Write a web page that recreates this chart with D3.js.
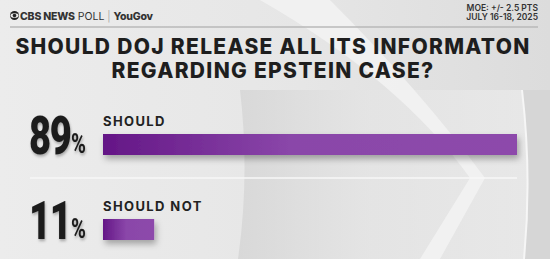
<!DOCTYPE html>
<html>
<head>
<meta charset="utf-8">
<script src="https://cdn.jsdelivr.net/npm/d3@7"></script>
<style>
  body { margin: 0; background: #e9e9e9; }
  svg { display: block; }
  .title { font-family: Inter, 'Open Sans', sans-serif; font-weight: 800; fill: #1e1e1e; letter-spacing: 1.3px; }
  .num { font-family: Roboto, 'DejaVu Sans', sans-serif; font-weight: 900; fill: #1c1c1c; }
  .label { font-family: Inter, 'Open Sans', sans-serif; font-weight: 700; fill: #222; letter-spacing: 1.4px; }
  .small { font-family: Inter, 'Open Sans', sans-serif; fill: #333; }
</style>
</head>
<body>
<div id="chart"></div>
<script>
const answers = ['SHOULD', 'SHOULD NOT'];
const values = [89, 11];
const titleLines = ['SHOULD DOJ RELEASE ALL ITS INFORMATON', 'REGARDING EPSTEIN CASE?'];
const moeLines = ['MOE: +/- 2.5 PTS', 'JULY 16-18, 2025'];

const width = 550;
const height = 259;

const svg = d3.select('#chart')
  .append('svg')
    .attr('viewBox', [0, 0, width, height])
    .attr('width', width)
    .attr('height', height);

const defs = svg.append('defs');

// background shading
const bgGrad = defs.append('linearGradient').attr('id', 'bg').attr('x1', 0).attr('x2', 1).attr('y1', 0).attr('y2', 0);
bgGrad.append('stop').attr('offset', '0%').attr('stop-color', '#ececec');
bgGrad.append('stop').attr('offset', '55%').attr('stop-color', '#e6e6e6');
bgGrad.append('stop').attr('offset', '100%').attr('stop-color', '#dcdcdc');

const ringGrad = defs.append('linearGradient').attr('id', 'ring').attr('x1', 0).attr('x2', 1).attr('y1', 0).attr('y2', 0);
ringGrad.append('stop').attr('offset', '0%').attr('stop-color', '#d2d2d2');
ringGrad.append('stop').attr('offset', '40%').attr('stop-color', '#e4e4e4');
ringGrad.append('stop').attr('offset', '100%').attr('stop-color', '#ededed');

const barGrad = defs.append('linearGradient').attr('id', 'bar').attr('x1', 0).attr('x2', 1).attr('y1', 0).attr('y2', 0);
barGrad.append('stop').attr('offset', '0%').attr('stop-color', '#641686');
barGrad.append('stop').attr('offset', '45%').attr('stop-color', '#8a46a9');
barGrad.append('stop').attr('offset', '100%').attr('stop-color', '#8d4aab');

const shadow = defs.append('filter').attr('id', 'shadow').attr('x', '-10%').attr('y', '-50%').attr('width', '130%').attr('height', '250%');
shadow.append('feDropShadow').attr('dx', 2).attr('dy', 4).attr('stdDeviation', 3).attr('flood-color', '#000').attr('flood-opacity', 0.3);

const numShadow = defs.append('filter').attr('id', 'numshadow');
numShadow.append('feDropShadow').attr('dx', 1).attr('dy', 2).attr('stdDeviation', 1.5).attr('flood-color', '#000').attr('flood-opacity', 0.3);

svg.append('rect').attr('width', width).attr('height', height).attr('fill', 'url(#bg)');

// big curved shapes in the backdrop
svg.append('path')
  .attr('d', 'M240,90 Q250,175 238,259 L550,259 L550,90 Z')
  .attr('fill', 'url(#ring)')
  .attr('opacity', 0.7);
svg.append('path')
  .attr('d', 'M260,0 L330,0 Q420,90 485,178 L440,259 L420,259 L470,178 Q400,80 260,0 Z')
  .attr('fill', '#f4f4f4')
  .attr('opacity', 0.8);
svg.append('path')
  .attr('d', 'M522,90 Q532,175 524,259 L550,259 L550,90 Z')
  .attr('fill', '#d6d6d6');
svg.append('path')
  .attr('d', 'M522,90 Q532,175 524,259')
  .attr('fill', 'none')
  .attr('stroke', '#f6f6f6')
  .attr('stroke-width', 2);

// header
const header = svg.append('g');
header.append('circle').attr('cx', 14.5).attr('cy', 15.5).attr('r', 4.5).attr('fill', '#222');
header.append('ellipse').attr('cx', 14.5).attr('cy', 15.5).attr('rx', 4).attr('ry', 2.3).attr('fill', '#e9e9e9');
header.append('circle').attr('cx', 14.5).attr('cy', 15.5).attr('r', 1.8).attr('fill', '#222');
const headText = header.append('text')
  .attr('class', 'small')
  .attr('x', 20)
  .attr('y', 19.5)
  .attr('font-size', 10.5)
  .attr('fill', '#222');
headText.append('tspan').attr('font-weight', 800).attr('letter-spacing', -0.2).text('CBS NEWS');
headText.append('tspan').attr('font-weight', 400).text(' POLL');
headText.append('tspan').attr('font-weight', 300).attr('fill', '#999').text('  |  ');
headText.append('tspan').attr('font-weight', 800).attr('letter-spacing', -0.2).text('YouGov');

svg.append('line')
  .attr('x1', 10).attr('x2', 538)
  .attr('y1', 27).attr('y2', 27)
  .attr('stroke', '#b9b9b9')
  .attr('stroke-width', 1.5);

svg.append('g')
  .selectAll('text')
  .data(moeLines)
  .join('text')
    .attr('class', 'small')
    .attr('x', 538)
    .attr('y', (d, i) => 10.5 + i * 9.5)
    .attr('text-anchor', 'end')
    .attr('font-size', 8.5)
    .attr('font-weight', 600)
    .text(d => d);

svg.append('g')
  .selectAll('text')
  .data(titleLines)
  .join('text')
    .attr('class', 'title')
    .attr('x', 273)
    .attr('y', (d, i) => 54 + i * 24)
    .attr('text-anchor', 'middle')
    .attr('font-size', 21)
    .text(d => d);

// bars
const x = d3.scaleLinear()
  .domain([0, 89])
  .range([0, 414]);
const y = d3.scaleBand()
  .domain(answers)
  .range([95, 265])
  .paddingInner(0);

const rows = svg.append('g')
  .selectAll('g')
  .data(answers)
  .join('g')
    .attr('transform', d => `translate(0, ${y(d)})`);

rows.append('rect')
  .attr('x', 103)
  .attr('y', 39)
  .attr('width', (d, i) => x(values[i]))
  .attr('height', 21)
  .attr('fill', 'url(#bar)')
  .attr('filter', 'url(#shadow)');

rows.append('text')
  .attr('class', 'label')
  .attr('x', 103)
  .attr('y', 31)
  .attr('font-size', 13)
  .text(d => d);

// condensed percentage figures
const numText = rows.append('text')
  .attr('class', 'num')
  .attr('transform', 'translate(29, 59) scale(0.72, 1)')
  .attr('filter', 'url(#numshadow)');
numText.append('tspan')
  .attr('font-size', 53)
  .attr('letter-spacing', -2)
  .text((d, i) => values[i]);
numText.append('tspan')
  .attr('font-size', 28)
  .attr('dx', 1)
  .attr('dy', -1)
  .attr('font-weight', 700)
  .text('%');

// separator between rows
svg.append('line')
  .attr('x1', 30).attr('x2', 517)
  .attr('y1', y(answers[1]) - 2).attr('y2', y(answers[1]) - 2)
  .attr('stroke', '#f7f7f7')
  .attr('stroke-width', 1.5);
</script>
</body>
</html>
